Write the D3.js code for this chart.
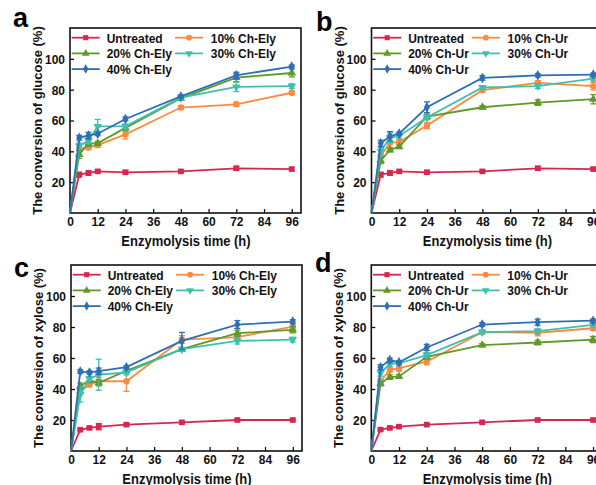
<!DOCTYPE html>
<html>
<head>
<meta charset="utf-8">
<script src="https://cdn.jsdelivr.net/npm/d3@7"></script>
<style>
  body { margin: 0; background: #fff; }
  svg { font-family: "Liberation Sans", Arial, sans-serif; font-weight: bold; }
  .tall { transform-box: fill-box; transform-origin: center; transform: scaleY(1.12); }
</style>
</head>
<body>
<div id="chart"></div>
<script>
// sampling times (h)
var times = [0, 4, 8, 12, 24, 48, 72, 96];
var xTicks = [0, 12, 24, 36, 48, 60, 72, 84, 96];
var yTicks = [20, 40, 60, 80, 100];

var namesEly = ["Untreated", "10% Ch-Ely", "20% Ch-Ely", "30% Ch-Ely", "40% Ch-Ely"];
var namesUr = ["Untreated", "10% Ch-Ur", "20% Ch-Ur", "30% Ch-Ur", "40% Ch-Ur"];

// a: glucose, Ch-Ely
var glucoseEly = [
  [0, 24.9, 26, 27, 26.4, 27, 29, 28.5],
  [0, 41.8, 42.4, 44, 51, 68.4, 70.5, 78],
  [0, 38, 45.2, 45.2, 55.2, 74.4, 87.8, 90.8],
  [0, 43.4, 47, 56.2, 56.2, 74.8, 81.8, 82.3],
  [0, 48.8, 50.3, 51.4, 61, 75.6, 89.3, 95]
];
var glucoseElyErr = [
  [0, 1.5, 1.5, 1, 1.2, 0.8, 1.3, 1],
  [0, 1, 1, 1.2, 3, 1.2, 1.3, 1.2],
  [0, 2.5, 2, 1.2, 2, 1, 2.5, 2.5],
  [0, 2, 2, 4.5, 1.5, 1, 3, 1.5],
  [0, 1.5, 2, 1.2, 1.2, 1, 2, 1]
];

// b: glucose, Ch-Ur
var glucoseUr = [
  [0, 24.9, 26, 27, 26.4, 27, 29, 28.5],
  [0, 37, 45.6, 46, 56.7, 79.7, 84.4, 82.3],
  [0, 34, 40.9, 43, 62.6, 68.6, 71.6, 73.8],
  [0, 40, 48.8, 50, 62, 81.4, 82.3, 87.2],
  [0, 45.2, 49.8, 51.5, 68.6, 87.6, 89.3, 89.8]
];
var glucoseUrErr = [
  [0, 1.5, 1.5, 1, 1.2, 0.8, 1.3, 1],
  [0, 1.5, 3, 1.5, 2, 1.2, 1.5, 2.5],
  [0, 2, 1.2, 1, 1.5, 1, 1.8, 3],
  [0, 2.5, 3, 1.5, 1.5, 1, 1.5, 1.5],
  [0, 2, 3, 1, 3.5, 1.5, 1, 1]
];

// c: xylose, Ch-Ely
var xyloseEly = [
  [0, 13.7, 14.9, 15.7, 17, 18.5, 20, 20],
  [0, 38.6, 42.9, 45, 45, 71.9, 73.5, 80.3],
  [0, 41.8, 45.6, 44, 51.7, 65.7, 76, 78.2],
  [0, 36.5, 46.7, 49.2, 50.7, 65.7, 71, 71.9],
  [0, 51.3, 50.7, 51.5, 54.1, 71, 81.6, 83.5]
];
var xyloseElyErr = [
  [0, 0.8, 0.8, 2, 0.8, 0.8, 0.8, 0.8],
  [0, 2, 1.5, 2.5, 6.5, 2.5, 1.5, 1.5],
  [0, 2, 1.5, 2, 1.2, 1, 2, 2],
  [0, 5, 1.5, 10, 1.5, 1, 2, 1.5],
  [0, 1.2, 1, 2, 1, 5.5, 2.5, 1.2]
];

// d: xylose, Ch-Ur
var xyloseUr = [
  [0, 13.8, 14.9, 15.7, 17, 18.5, 20, 20],
  [0, 45, 52.4, 53.4, 57.6, 76.7, 76.3, 79.2],
  [0, 43.5, 47.7, 48.1, 60.8, 68.3, 70, 71.9],
  [0, 50.3, 56.2, 56.6, 61.9, 76.7, 77.3, 81.4],
  [0, 54.1, 58.7, 57.2, 66.8, 81.6, 83.1, 84.1]
];
var xyloseUrErr = [
  [0, 0.8, 0.8, 0.8, 0.8, 0.8, 0.8, 0.8],
  [0, 1.5, 1.5, 2, 2, 1.5, 2, 1.5],
  [0, 1.5, 1.5, 1.2, 1.5, 1, 1.5, 2],
  [0, 2, 1.5, 1, 1.5, 1, 1.5, 1.5],
  [0, 1.5, 1.2, 1, 2, 1.2, 2, 1]
];

var colors = ["#d7264f", "#ff8a3d", "#5f9a28", "#3fbfae", "#2d6fb5"];
var shapes = [d3.symbolSquare, d3.symbolCircle, d3.symbolTriangle, d3.symbolTriangle, d3.symbolDiamond];
var shapeRot = [0, 0, 0, 180, 0];

var svg = d3.select("#chart").append("svg")
  .attr("width", 596)
  .attr("height", 485);

function drawPanel(p) {
  var x = d3.scaleLinear().domain([0, 100]).range([p.left, p.left + 231]);
  var y = d3.scaleLinear().domain([0, 120]).range([p.bottom, p.top]);
  var g = svg.append("g");

  // axes, ticks inside
  g.append("g")
    .attr("transform", "translate(0," + p.bottom + ")")
    .call(d3.axisBottom(x).tickValues(xTicks).tickSize(-4).tickPadding(4))
    .call(function (s) { s.select(".domain").remove(); });
  g.append("g")
    .attr("transform", "translate(" + p.left + ",0)")
    .call(d3.axisLeft(y).tickValues(yTicks).tickSize(-4).tickPadding(5))
    .call(function (s) { s.select(".domain").remove(); });
  g.selectAll(".tick text")
    .attr("class", "tall")
    .attr("font-size", 12)
    .attr("font-family", "Liberation Sans, Arial, sans-serif")
    .attr("font-weight", "bold")
    .attr("fill", "#111");
  g.selectAll(".tick line").attr("stroke", "#111").attr("stroke-width", 1.3);

  // frame
  g.append("rect")
    .attr("x", p.left).attr("y", p.top)
    .attr("width", 231).attr("height", p.bottom - p.top)
    .attr("fill", "none").attr("stroke", "#111").attr("stroke-width", 1.6);

  // titles
  g.append("text")
    .attr("class", "tall")
    .attr("x", p.left + 116).attr("y", p.bottom + 32.5)
    .attr("text-anchor", "middle").attr("font-size", 13).attr("fill", "#111")
    .text("Enzymolysis time (h)");
  g.append("text")
    .attr("transform", "translate(" + (p.left - 28) + "," + ((p.top + p.bottom) / 2) + ") rotate(-90)")
    .attr("text-anchor", "middle").attr("font-size", 13).attr("fill", "#111")
    .text(p.yTitle);
  g.append("text")
    .attr("x", p.letterX).attr("y", p.letterY)
    .attr("font-size", 27).attr("fill", "#000")
    .text(p.letter);

  var line = d3.line()
    .x(function (d, i) { return x(times[i]); })
    .y(function (d) { return y(d); });

  p.values.forEach(function (vals, k) {
    var sg = g.append("g");
    sg.append("path")
      .attr("d", line(vals))
      .attr("fill", "none").attr("stroke", colors[k]).attr("stroke-width", 1.8);
    vals.forEach(function (v, i) {
      if (i === 0) return;
      var e = p.errors[k][i];
      var cx = x(times[i]);
      sg.append("line").attr("x1", cx).attr("x2", cx).attr("y1", y(v - e)).attr("y2", y(v + e))
        .attr("stroke", colors[k]).attr("stroke-width", 1.3);
      [v - e, v + e].forEach(function (yy) {
        sg.append("line").attr("x1", cx - 3).attr("x2", cx + 3).attr("y1", y(yy)).attr("y2", y(yy))
          .attr("stroke", colors[k]).attr("stroke-width", 1.3);
      });
      sg.append("path")
        .attr("d", d3.symbol().type(shapes[k]).size(32))
        .attr("transform", "translate(" + cx + "," + y(v) + ") rotate(" + shapeRot[k] + ")")
        .attr("fill", colors[k]);
    });
  });

  // legend: two columns, fifth entry on its own row
  var lg = g.append("g");
  var rowY = function (r) { return p.top + 9.7 + r * 15.7; };
  var col1 = [0, 2, 4], col2 = [1, 3];
  var textX1 = p.left + 36.7;
  var maxW = 0;
  col1.forEach(function (k, r) {
    var t = lg.append("text").attr("class", "tall").attr("x", textX1).attr("y", rowY(r)).attr("dy", "0.36em")
      .attr("font-size", 12).attr("fill", "#111").text(p.names[k]);
    maxW = Math.max(maxW, t.node().getComputedTextLength());
  });
  var lineX2 = textX1 + maxW + 3;
  function sample(k, lx, ly) {
    lg.append("line").attr("x1", lx).attr("x2", lx + 28).attr("y1", ly).attr("y2", ly)
      .attr("stroke", colors[k]).attr("stroke-width", 1.8);
    lg.append("path")
      .attr("d", d3.symbol().type(shapes[k]).size(26))
      .attr("transform", "translate(" + (lx + 14) + "," + ly + ") rotate(" + shapeRot[k] + ")")
      .attr("fill", colors[k]);
  }
  col1.forEach(function (k, r) { sample(k, p.left + 1.7, rowY(r)); });
  col2.forEach(function (k, r) {
    sample(k, lineX2, rowY(r));
    lg.append("text").attr("class", "tall").attr("x", lineX2 + 35.7).attr("y", rowY(r)).attr("dy", "0.36em")
      .attr("font-size", 12).attr("fill", "#111").text(p.names[k]);
  });
}

drawPanel({ left: 70, top: 28, bottom: 213, letter: "a", letterX: 13, letterY: 27,
  yTitle: "The conversion of glucose (%)", names: namesEly, values: glucoseEly, errors: glucoseElyErr });
drawPanel({ left: 371.5, top: 28, bottom: 213, letter: "b", letterX: 316, letterY: 31,
  yTitle: "The conversion of glucose (%)", names: namesUr, values: glucoseUr, errors: glucoseUrErr });
drawPanel({ left: 71, top: 265, bottom: 451, letter: "c", letterX: 14, letterY: 277,
  yTitle: "The conversion of xylose (%)", names: namesEly, values: xyloseEly, errors: xyloseElyErr });
drawPanel({ left: 371.3, top: 265, bottom: 451, letter: "d", letterX: 315, letterY: 272,
  yTitle: "The conversion of xylose (%)", names: namesUr, values: xyloseUr, errors: xyloseUrErr });
</script>
</body>
</html>
